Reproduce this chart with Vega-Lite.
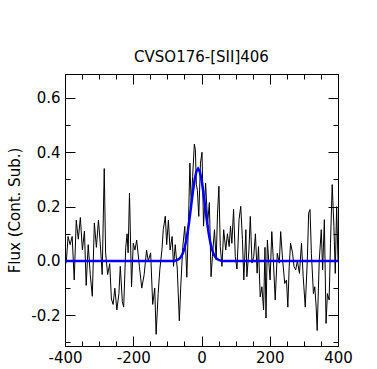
{
  "$schema": "https://vega.github.io/schema/vega-lite/v6.json",
  "width": 273,
  "height": 272,
  "autosize": "none",
  "padding": {"left": 65, "top": 74, "right": 39, "bottom": 23},
  "background": "white",
  "config": {
    "view": {"stroke": "black", "strokeWidth": 1},
    "font": "DejaVu Sans",
    "axis": {"grid": false, "domainColor": "black", "tickColor": "black", "labelColor": "black", "titleColor": "black", "labelFont": "DejaVu Sans", "titleFont": "DejaVu Sans", "labelFontSize": 15, "titleFontSize": 15, "titleFontWeight": "normal"}
  },
  "title": {"text": "CVSO176-[SII]406", "fontSize": 15, "fontWeight": "normal", "font": "DejaVu Sans", "color": "black", "offset": 9},
  "datasets": {
    "obs": [
      {"v": -400, "flux": -0.02}, {"v": -396, "flux": 0.0}, {"v": -391, "flux": 0.09}, {"v": -385, "flux": 0.06},
      {"v": -379, "flux": 0.09}, {"v": -373, "flux": -0.07}, {"v": -367, "flux": 0.15}, {"v": -361, "flux": 0.08},
      {"v": -355, "flux": 0.16}, {"v": -349, "flux": 0.04}, {"v": -343, "flux": 0.11}, {"v": -338, "flux": -0.09},
      {"v": -332, "flux": 0.06}, {"v": -326, "flux": -0.05}, {"v": -320, "flux": -0.13}, {"v": -314, "flux": 0.14},
      {"v": -308, "flux": 0.05}, {"v": -302, "flux": 0.15}, {"v": -297, "flux": 0.07}, {"v": -291, "flux": -0.05},
      {"v": -285, "flux": 0.34}, {"v": -281, "flux": 0.03}, {"v": -275, "flux": -0.05}, {"v": -269, "flux": -0.01},
      {"v": -264, "flux": -0.14}, {"v": -259, "flux": -0.16}, {"v": -254, "flux": -0.1}, {"v": -248, "flux": -0.18},
      {"v": -242, "flux": -0.12}, {"v": -238, "flux": -0.02}, {"v": -232, "flux": -0.15}, {"v": -228, "flux": -0.17},
      {"v": -222, "flux": 0.05}, {"v": -218, "flux": 0.1}, {"v": -215, "flux": 0.03}, {"v": -211, "flux": 0.25},
      {"v": -205, "flux": -0.095}, {"v": -200, "flux": 0.065}, {"v": -195, "flux": 0.04}, {"v": -190, "flux": 0.077},
      {"v": -182, "flux": -0.02}, {"v": -175, "flux": -0.1}, {"v": -168, "flux": -0.05}, {"v": -161, "flux": 0.04},
      {"v": -156, "flux": 0.0}, {"v": -149, "flux": 0.03}, {"v": -143, "flux": -0.16}, {"v": -137, "flux": -0.1},
      {"v": -133, "flux": -0.27}, {"v": -127, "flux": -0.12}, {"v": -122, "flux": -0.03}, {"v": -116, "flux": 0.04},
      {"v": -112, "flux": 0.115}, {"v": -106, "flux": 0.165}, {"v": -102, "flux": 0.06}, {"v": -97, "flux": 0.15},
      {"v": -92, "flux": 0.04}, {"v": -86, "flux": 0.09}, {"v": -82, "flux": -0.02}, {"v": -77, "flux": 0.06},
      {"v": -71, "flux": -0.03}, {"v": -65, "flux": -0.22}, {"v": -61, "flux": -0.1}, {"v": -55, "flux": 0.05},
      {"v": -49, "flux": 0.127}, {"v": -43, "flux": -0.06}, {"v": -38, "flux": 0.15}, {"v": -34, "flux": 0.36},
      {"v": -30, "flux": 0.2}, {"v": -26, "flux": 0.31}, {"v": -21, "flux": 0.43}, {"v": -18, "flux": 0.41},
      {"v": -15, "flux": 0.28}, {"v": -12, "flux": 0.26}, {"v": -8, "flux": 0.164}, {"v": -3, "flux": 0.36},
      {"v": 1.5, "flux": 0.4}, {"v": 6, "flux": 0.128}, {"v": 12, "flux": 0.287}, {"v": 18, "flux": 0.14},
      {"v": 23, "flux": 0.215}, {"v": 28, "flux": -0.058}, {"v": 32, "flux": 0.016}, {"v": 38, "flux": 0.115},
      {"v": 43, "flux": 0.004}, {"v": 47, "flux": 0.176}, {"v": 51, "flux": 0.275}, {"v": 55, "flux": 0.053},
      {"v": 60, "flux": -0.02}, {"v": 65, "flux": 0.115}, {"v": 71, "flux": 0.04}, {"v": 76, "flux": 0.1},
      {"v": 81, "flux": 0.053}, {"v": 85, "flux": 0.128}, {"v": 89, "flux": 0.065}, {"v": 94, "flux": 0.19},
      {"v": 99, "flux": 0.016}, {"v": 104, "flux": -0.03}, {"v": 110, "flux": 0.152}, {"v": 115, "flux": 0.201},
      {"v": 120, "flux": 0.078}, {"v": 124, "flux": -0.07}, {"v": 130, "flux": 0.115}, {"v": 133, "flux": -0.058},
      {"v": 139, "flux": 0.04}, {"v": 143, "flux": 0.164}, {"v": 148, "flux": -0.008}, {"v": 153, "flux": 0.016},
      {"v": 158, "flux": 0.1}, {"v": 163, "flux": -0.045}, {"v": 167, "flux": 0.053}, {"v": 172, "flux": -0.132},
      {"v": 177, "flux": -0.095}, {"v": 182, "flux": -0.18}, {"v": 186, "flux": 0.05}, {"v": 189, "flux": -0.21},
      {"v": 193, "flux": 0.077}, {"v": 197, "flux": 0.0}, {"v": 201, "flux": -0.07}, {"v": 206, "flux": 0.108},
      {"v": 210, "flux": 0.016}, {"v": 216, "flux": -0.144}, {"v": 222, "flux": 0.028}, {"v": 228, "flux": -0.008},
      {"v": 232, "flux": 0.108}, {"v": 238, "flux": 0.0}, {"v": 244, "flux": -0.083}, {"v": 249, "flux": -0.07},
      {"v": 253, "flux": -0.17}, {"v": 257, "flux": -0.02}, {"v": 261, "flux": 0.065}, {"v": 267, "flux": 0.028},
      {"v": 271, "flux": -0.02}, {"v": 276, "flux": -0.033}, {"v": 281, "flux": 0.0}, {"v": 287, "flux": -0.046},
      {"v": 293, "flux": 0.065}, {"v": 298, "flux": -0.058}, {"v": 304, "flux": -0.17}, {"v": 310, "flux": 0.0},
      {"v": 314, "flux": 0.176}, {"v": 318, "flux": 0.189}, {"v": 322, "flux": 0.028}, {"v": 328, "flux": -0.12},
      {"v": 332, "flux": -0.095}, {"v": 336, "flux": -0.17}, {"v": 339, "flux": -0.256}, {"v": 345, "flux": 0.0},
      {"v": 351, "flux": 0.115}, {"v": 355, "flux": -0.033}, {"v": 360, "flux": 0.152}, {"v": 365, "flux": -0.23},
      {"v": 369, "flux": -0.12}, {"v": 374, "flux": -0.144}, {"v": 378, "flux": 0.065}, {"v": 383, "flux": 0.281},
      {"v": 388, "flux": 0.127}, {"v": 392, "flux": -0.046}, {"v": 396, "flux": 0.2}, {"v": 400, "flux": 0.0}
    ],
    "fit": [
      {"v": -400, "flux": 0}, {"v": -80, "flux": 0.0}, {"v": -70, "flux": 0.0038}, {"v": -65, "flux": 0.0078},
      {"v": -60, "flux": 0.0149}, {"v": -55, "flux": 0.0271}, {"v": -50, "flux": 0.046}, {"v": -45, "flux": 0.0736},
      {"v": -40, "flux": 0.1104}, {"v": -35, "flux": 0.1557}, {"v": -30, "flux": 0.2062}, {"v": -25, "flux": 0.2566},
      {"v": -20, "flux": 0.3}, {"v": -15, "flux": 0.3295}, {"v": -10, "flux": 0.34}, {"v": -5, "flux": 0.3295},
      {"v": 0, "flux": 0.3}, {"v": 5, "flux": 0.2566}, {"v": 10, "flux": 0.2062}, {"v": 15, "flux": 0.1557},
      {"v": 20, "flux": 0.1104}, {"v": 25, "flux": 0.0736}, {"v": 30, "flux": 0.046}, {"v": 35, "flux": 0.0271},
      {"v": 40, "flux": 0.0149}, {"v": 45, "flux": 0.0078}, {"v": 50, "flux": 0.0038}, {"v": 60, "flux": 0.0},
      {"v": 400, "flux": 0}
    ]
  },
  "layer": [
    {
      "data": {"name": "obs"},
      "mark": {"type": "line", "color": "black", "strokeWidth": 1, "clip": true},
      "encoding": {
        "x": {"field": "v", "type": "quantitative", "scale": {"domain": [-400, 400], "nice": false, "zero": false},
          "axis": {"orient": "bottom", "title": "v (km s⁻¹)", "titlePadding": 2, "values": [-400,-350,-300,-250,-200,-150,-100,-50,0,50,100,150,200,250,300,350,400],
            "labelExpr": "datum.value % 200 === 0 ? (datum.value < 0 ? '-' + abs(datum.value) : '' + datum.value) : ''",
            "tickSize": {"condition": {"test": "datum.value % 200 === 0", "value": -10}, "value": -5},
            "labelPadding": 14, "labelFlush": false, "labelOverlap": false}},
        "y": {"field": "flux", "type": "quantitative", "scale": {"domain": [-0.313, 0.688], "nice": false, "zero": false},
          "axis": {"orient": "left", "title": "Flux (Cont. Sub.)", "titlePadding": 8, "values": [-0.3,-0.2,-0.1,0,0.1,0.2,0.3,0.4,0.5,0.6],
            "labelExpr": "round(datum.value*10) % 2 === 0 ? (datum.value < -0.001 ? '-' : '') + format(abs(datum.value), '.1f') : ''",
            "tickSize": {"condition": {"test": "round(datum.value*10) % 2 === 0", "value": -10}, "value": -5},
            "labelPadding": 15, "labelFlush": false, "labelOverlap": false}}
      }
    },
    {
      "data": {"name": "fit"},
      "mark": {"type": "line", "color": "#0000ff", "strokeWidth": 2.5, "clip": true},
      "encoding": {
        "x": {"field": "v", "type": "quantitative",
          "axis": {"orient": "top", "title": null, "labels": false, "values": [-400,-350,-300,-250,-200,-150,-100,-50,0,50,100,150,200,250,300,350,400],
            "tickSize": {"condition": {"test": "datum.value % 200 === 0", "value": -10}, "value": -5}}},
        "y": {"field": "flux", "type": "quantitative",
          "axis": {"orient": "right", "title": null, "labels": false, "values": [-0.3,-0.2,-0.1,0,0.1,0.2,0.3,0.4,0.5,0.6],
            "tickSize": {"condition": {"test": "round(datum.value*10) % 2 === 0", "value": -10}, "value": -5}}}
      }
    }
  ],
  "resolve": {"axis": {"x": "independent", "y": "independent"}}
}
